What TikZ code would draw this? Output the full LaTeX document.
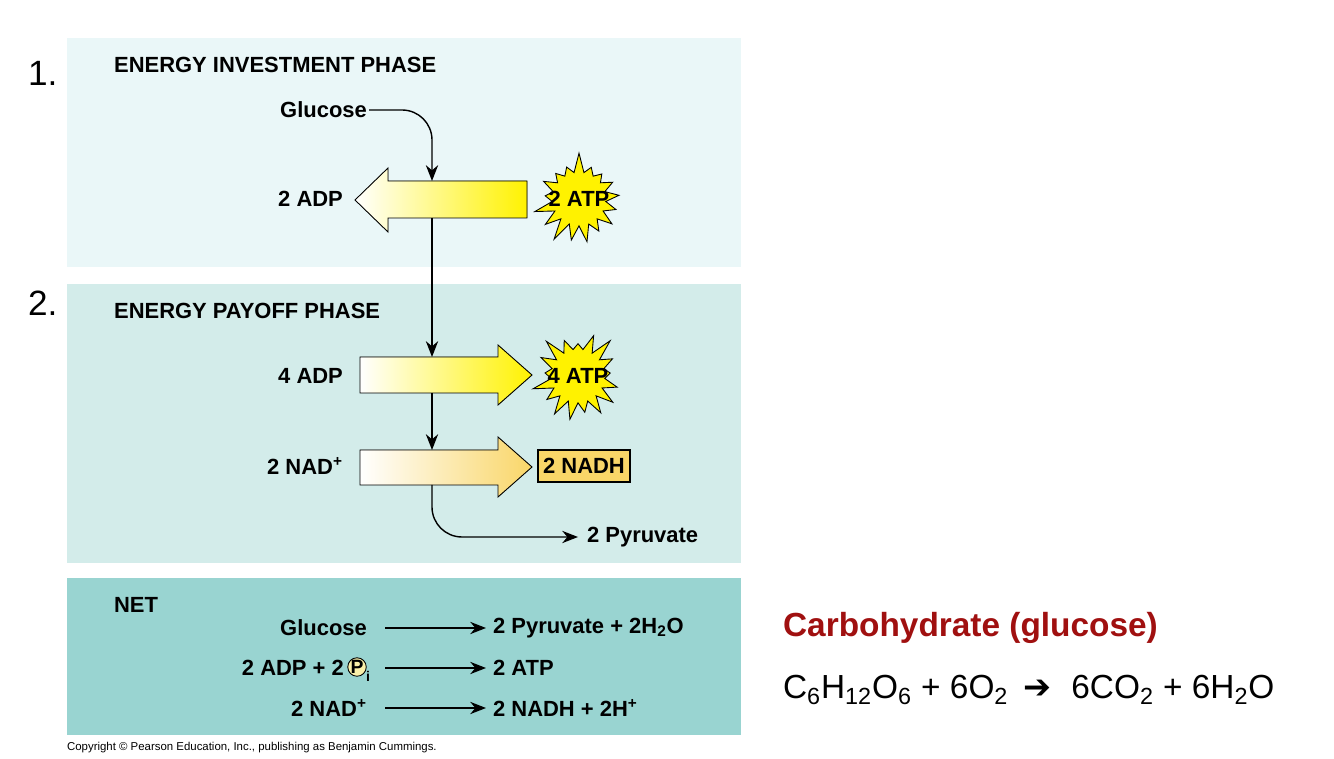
\documentclass[tikz,border=0pt]{standalone}
\usepackage{fontspec}
\setmainfont{Liberation Sans}
\newfontfamily\symfont{DejaVu Sans}
\usetikzlibrary{positioning,arrows.meta,shapes.symbols}

\definecolor{investbg}{RGB}{234,247,248}
\definecolor{payoffbg}{RGB}{211,236,234}
\definecolor{netbg}{RGB}{153,212,209}
\definecolor{atpyellow}{RGB}{255,242,0}
\definecolor{nadhgold}{RGB}{249,214,104}
\definecolor{pyellow}{RGB}{250,240,170}
\definecolor{carbred}{RGB}{160,16,16}

\tikzset{
  lbl/.style={font=\fontsize{12.5}{15}\selectfont\bfseries, inner sep=1pt},
  phase/.style={lbl, anchor=west},
  flow/.style={line width=0.8pt, -{Stealth[length=9pt,width=7pt]}},
  fatarrow/.style={line width=0.5pt, draw=black},
  burst/.style={starburst, starburst points=17, starburst point height=0.42cm,
    random starburst=7, fill=atpyellow, draw, line width=0.5pt, inner sep=0.38cm},
}

\begin{document}
\begin{tikzpicture}[x=0.02cm, y=-0.02cm]
\useasboundingbox (0,0) rectangle (1334,759);

% the three panels
\fill[investbg] (67,38) rectangle (741,267);
\fill[payoffbg] (67,284) rectangle (741,563);
\fill[netbg] (67,578) rectangle (741,735);

\node[font=\fontsize{20}{24}\selectfont, anchor=west, inner sep=1pt] (one) at (26,73) {1.};
\node[font=\fontsize{20}{24}\selectfont, anchor=west, inner sep=1pt] (two) at (26,303) {2.};

% energy investment phase
\node[phase] (invest) at (112,65) {ENERGY INVESTMENT PHASE};
\node[lbl, anchor=east] (glc) at (369,110) {Glucose};
\fill[fatarrow, left color=white, right color=atpyellow]
  (527,181) -- (388,181) -- (388,168) -- (355,200) -- (388,232) -- (388,218) -- (527,218) -- cycle;
\coordinate (invtop) at (432,181);
\coordinate (invbot) at (432,218);
\node[lbl, anchor=east] (adp2) at (345,199) {2 ADP};
\node[burst] (atp2) at (579,199) {};
\node[lbl] (atp2txt) at (atp2) {2 ATP};

% energy payoff phase
\node[phase] (payoff) at (112,311) {ENERGY PAYOFF PHASE};
\fill[fatarrow, left color=white, right color=atpyellow]
  (360,357) -- (498,357) -- (498,345) -- (532,375) -- (498,405) -- (498,393) -- (360,393) -- cycle;
\coordinate (adptop) at (432,357);
\coordinate (adpbot) at (432,393);
\node[lbl, anchor=east] (adp4) at (345,376) {4 ADP};
\node[burst, random starburst=23] (atp4) at (578,376) {};
\node[lbl] (atp4txt) at (atp4) {4 ATP};

\fill[fatarrow, left color=white, right color=nadhgold]
  (360,450) -- (498,450) -- (498,437) -- (532,467) -- (498,497) -- (498,485) -- (360,485) -- cycle;
\coordinate (nadtop) at (432,450);
\coordinate (nadbot) at (432,485);
\node[lbl, anchor=east] (nad) at (345,466) {2 NAD\textsuperscript{+}};
\node[lbl, draw, fill=nadhgold, line width=0.6pt, minimum width=1.84cm, minimum height=0.64cm] (nadh) at (584,466) {2 NADH};
\node[lbl, anchor=west] (pyr) at (585,537) {2 Pyruvate};

\draw[flow, rounded corners=0.6cm] (glc.east) -| (invtop);
\draw[flow] (invbot) -- (adptop);
\draw[flow] (adpbot) -- (nadtop);
\draw[flow, rounded corners=0.6cm, shorten >=0.14cm] (nadbot) |- (pyr.west);

% net
\node[phase] (net) at (112,605) {NET};
\coordinate (arrL) at (385,0);
\coordinate (arrR) at (486,0);
\node[lbl, anchor=east] (netglc) at (369,628) {Glucose};
\node[lbl, anchor=west] (netpyr) at (491,628) {2 Pyruvate + 2H\textsubscript{2}O};
\node[lbl, anchor=east] (netadp) at (346,668) {2 ADP + 2};
\node[circle, draw, fill=pyellow, line width=0.5pt, inner sep=0pt, minimum size=0.36cm,
  font=\fontsize{11}{12}\selectfont\bfseries] (pi) at (357,667) {P};
\node[font=\fontsize{8}{9}\selectfont\bfseries, inner sep=0pt] (pisub) at (368,676) {i};
\node[lbl, anchor=west] (netatp) at (491,668) {2 ATP};
\node[lbl, anchor=east] (netnad) at (369,708) {2 NAD\textsuperscript{+}};
\node[lbl, anchor=west] (netnadh) at (491,708) {2 NADH + 2H\textsuperscript{+}};
\draw[flow] (arrL |- netglc) -- (arrR |- netpyr);
\draw[flow] (arrL |- netatp) -- (arrR |- netatp);
\draw[flow] (arrL |- netnad) -- (arrR |- netnadh);

\node[font=\fontsize{6.5}{8}\selectfont, anchor=west, inner sep=1pt] (copy) at (65,748)
  {Copyright \textcopyright{} Pearson Education, Inc., publishing as Benjamin Cummings.};

% summary on the right
\node[font=\fontsize{19}{23}\selectfont\bfseries, text=carbred, anchor=west, inner sep=1pt] (carb) at (781,628) {Carbohydrate (glucose)};
\node[font=\fontsize{19}{23}\selectfont, anchor=west, inner sep=1pt] (eqn) at (781,690)
  {C\textsubscript{6}H\textsubscript{12}O\textsubscript{6} + 6O\textsubscript{2}\hspace{0.45em}{\symfont\bfseries ➔}\hspace{0.6em}6CO\textsubscript{2} + 6H\textsubscript{2}O};
\end{tikzpicture}
\end{document}
